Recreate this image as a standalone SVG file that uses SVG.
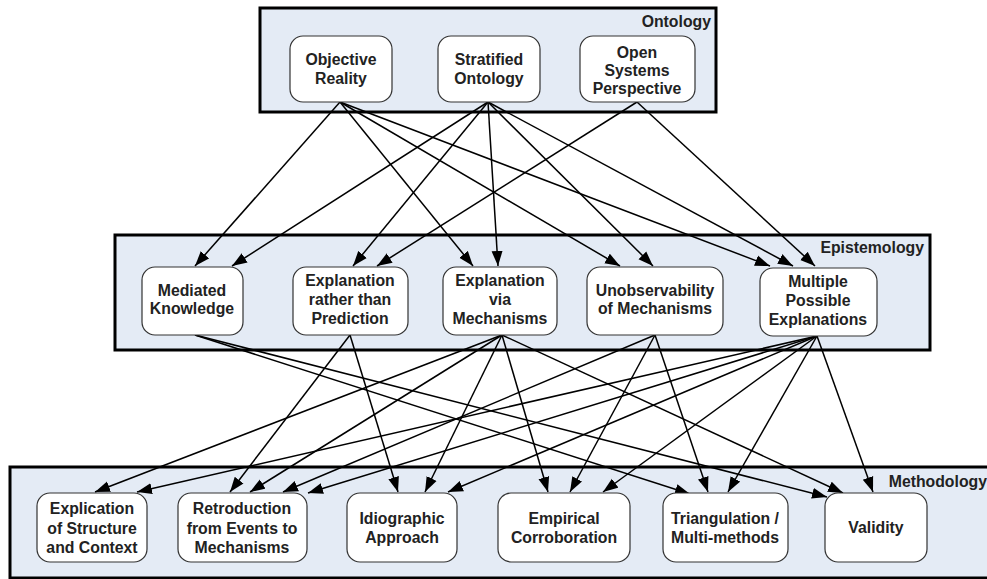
<svg xmlns="http://www.w3.org/2000/svg" width="987" height="579" viewBox="0 0 987 579">
<style>
.panel{fill:#e4ebf5;stroke:#000;stroke-width:3}
.node rect{fill:#fff;stroke:#333;stroke-width:1.2}
text{font-family:"Liberation Sans",Arial,sans-serif;font-weight:bold;font-size:15.8px;fill:#222}
.node text{text-anchor:middle}
.plabel{text-anchor:end}
.edges line{stroke:#000;stroke-width:1.5;marker-end:url(#ah)}
</style>
<defs>
<marker id="ah" markerUnits="userSpaceOnUse" markerWidth="16" markerHeight="12" refX="15" refY="6" orient="auto">
<path d="M0,0.5 L15,6 L0,11.5 z" fill="#000"/>
</marker>
</defs>
<rect fill="#fff" width="987" height="579"/>
<g id="panel-ontology"><rect class="panel" x="260" y="8" width="456" height="104"/><text class="plabel" x="711" y="27">Ontology</text></g>
<g id="panel-epistemology"><rect class="panel" x="115" y="235" width="815" height="115"/><text class="plabel" x="924" y="253">Epistemology</text></g>
<g id="panel-methodology"><rect class="panel" x="10" y="467" width="990" height="111"/><text class="plabel" x="987" y="487">Methodology</text></g>

<g class="edges" id="connectors">
<line x1="340" y1="102" x2="195" y2="266"/>
<line x1="340" y1="102" x2="473" y2="266"/>
<line x1="340" y1="102" x2="620" y2="266"/>
<line x1="340" y1="102" x2="770" y2="266"/>
<line x1="488" y1="102" x2="232" y2="266"/>
<line x1="488" y1="102" x2="353" y2="266"/>
<line x1="488" y1="102" x2="498" y2="266"/>
<line x1="488" y1="102" x2="653" y2="266"/>
<line x1="488" y1="102" x2="793" y2="266"/>
<line x1="637" y1="102" x2="377" y2="266"/>
<line x1="637" y1="102" x2="815" y2="266"/>

<line x1="195" y1="335" x2="690" y2="494"/>
<line x1="195" y1="335" x2="827" y2="497"/>
<line x1="350" y1="335" x2="230" y2="492"/>
<line x1="350" y1="335" x2="398" y2="492"/>
<line x1="502" y1="335" x2="95" y2="492"/>
<line x1="502" y1="335" x2="250" y2="492"/>
<line x1="502" y1="335" x2="425" y2="492"/>
<line x1="502" y1="335" x2="548" y2="492"/>
<line x1="502" y1="335" x2="843" y2="493"/>
<line x1="655" y1="335" x2="283" y2="492"/>
<line x1="655" y1="335" x2="570" y2="492"/>
<line x1="655" y1="335" x2="708" y2="492"/>
<line x1="817" y1="336" x2="137" y2="492"/>
<line x1="817" y1="336" x2="308" y2="493"/>
<line x1="817" y1="336" x2="448" y2="492"/>
<line x1="817" y1="336" x2="603" y2="492"/>
<line x1="817" y1="336" x2="728" y2="492"/>
<line x1="817" y1="336" x2="873" y2="492"/>
</g>

<g class="node" id="objective-reality"><rect x="290" y="36" width="102" height="66" rx="13"/><text x="341" y="65">Objective</text><text x="341" y="84">Reality</text></g>
<g class="node" id="stratified-ontology"><rect x="438" y="36" width="102" height="66" rx="13"/><text x="489" y="65">Stratified</text><text x="489" y="84">Ontology</text></g>
<g class="node" id="open-systems"><rect x="580" y="36" width="115" height="66" rx="13"/><text x="637" y="58">Open</text><text x="637" y="76">Systems</text><text x="637" y="94">Perspective</text></g>

<g class="node" id="mediated-knowledge"><rect x="142" y="267" width="101" height="68" rx="13"/><text x="192" y="296">Mediated</text><text x="192" y="314">Knowledge</text></g>
<g class="node" id="explanation-rather"><rect x="293" y="267" width="115" height="68" rx="13"/><text x="350" y="286">Explanation</text><text x="350" y="305">rather than</text><text x="350" y="324">Prediction</text></g>
<g class="node" id="explanation-via"><rect x="443" y="267" width="114" height="68" rx="13"/><text x="500" y="286">Explanation</text><text x="500" y="305">via</text><text x="500" y="324">Mechanisms</text></g>
<g class="node" id="unobservability"><rect x="587" y="267" width="136" height="68" rx="13"/><text x="655" y="296">Unobservability</text><text x="655" y="314">of Mechanisms</text></g>
<g class="node" id="multiple-explanations"><rect x="760" y="268" width="117" height="68" rx="13"/><text x="818" y="287">Multiple</text><text x="818" y="306">Possible</text><text x="818" y="325">Explanations</text></g>

<g class="node" id="explication"><rect x="37" y="493" width="110" height="69" rx="13"/><text x="92" y="514">Explication</text><text x="92" y="534">of Structure</text><text x="92" y="553">and Context</text></g>
<g class="node" id="retroduction"><rect x="178" y="493" width="129" height="69" rx="13"/><text x="242" y="514">Retroduction</text><text x="242" y="534">from Events to</text><text x="242" y="553">Mechanisms</text></g>
<g class="node" id="idiographic"><rect x="347" y="493" width="110" height="69" rx="13"/><text x="402" y="524">Idiographic</text><text x="402" y="543">Approach</text></g>
<g class="node" id="empirical"><rect x="498" y="493" width="132" height="69" rx="13"/><text x="564" y="524">Empirical</text><text x="564" y="543">Corroboration</text></g>
<g class="node" id="triangulation"><rect x="663" y="493" width="125" height="69" rx="13"/><text x="725" y="524">Triangulation /</text><text x="725" y="543">Multi-methods</text></g>
<g class="node" id="validity"><rect x="825" y="493" width="102" height="69" rx="13"/><text x="876" y="533">Validity</text></g>
</svg>
